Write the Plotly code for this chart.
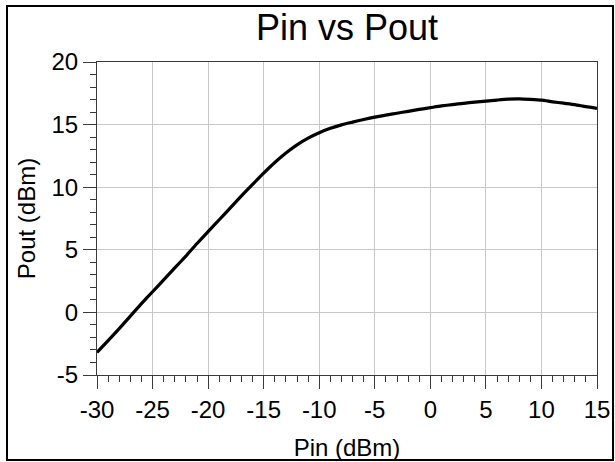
import plotly.graph_objects as go

pin_dbm = [-30, -29, -28, -27, -26, -25, -24, -23, -22, -21, -20, -19, -18, -17, -16,
           -15, -14, -13, -12, -11, -10, -9, -8, -7, -6, -5, -4, -3, -2, -1,
           0, 1, 2, 3, 4, 5, 6, 7, 8, 9, 10, 11, 12, 13, 14, 15]
pout_dbm = [-3.2, -2.25, -1.3, -0.3, 0.7, 1.65, 2.6, 3.55, 4.5, 5.5, 6.45, 7.4, 8.35, 9.3, 10.22,
            11.12, 11.97, 12.73, 13.38, 13.92, 14.35, 14.7, 14.98, 15.2, 15.41, 15.6, 15.76, 15.91, 16.06, 16.21,
            16.35, 16.49, 16.6, 16.7, 16.8, 16.88, 16.96, 17.03, 17.05, 17.01, 16.95, 16.82, 16.71, 16.6, 16.43, 16.3]

x_ticks = [-30, -25, -20, -15, -10, -5, 0, 5, 10, 15]
y_ticks = [-5, 0, 5, 10, 15, 20]

FONT = "Arial, Liberation Sans, Helvetica, sans-serif"

fig = go.Figure()
fig.add_trace(go.Scatter(
    x=pin_dbm, y=pout_dbm, mode="lines",
    line=dict(color="black", width=3.2, shape="spline", smoothing=0.6),
    showlegend=False, hoverinfo="x+y",
))

axis_common = dict(
    showline=True, linecolor="#3a3a3a", linewidth=1, mirror=True,
    showgrid=True, gridcolor="#c8c8c8", gridwidth=1,
    zeroline=False,
    ticks="outside", ticklen=13, tickwidth=1, tickcolor="#3a3a3a",
    tickfont=dict(family=FONT, size=24, color="black"),
    minor=dict(ticks="outside", ticklen=6, tickwidth=1, tickcolor="#3a3a3a",
               dtick=1, showgrid=False),
)

fig.update_xaxes(
    range=[-30, 15], tickvals=x_ticks, ticktext=[str(v) for v in x_ticks],
    title=dict(text="Pin (dBm)", font=dict(family=FONT, size=24, color="black"), standoff=17),
    **axis_common,
)
fig.update_yaxes(
    range=[-5, 20], tickvals=y_ticks, ticktext=[str(v) for v in y_ticks],
    title=dict(text="Pout (dBm)", font=dict(family=FONT, size=24, color="black"), standoff=9),
    **axis_common,
)

fig.update_layout(
    width=615, height=462,
    margin=dict(l=97, r=18, t=62, b=87, autoexpand=False),
    paper_bgcolor="white", plot_bgcolor="white",
    title=dict(text="Pin vs Pout", x=0.5, xref="paper", y=0.94, yref="container",
               xanchor="center", yanchor="middle",
               font=dict(family=FONT, size=36, color="black")),
    shapes=[dict(type="rect", xref="paper", yref="paper",
                 x0=-0.18, x1=1.032, y0=-0.2716, y1=1.179,
                 line=dict(color="black", width=2), fillcolor="rgba(0,0,0,0)", layer="above")],
)

fig.write_html(
    "out.html",
    config={"displayModeBar": False},
    post_script="document.body.style.margin='0';document.body.style.padding='0';document.body.style.overflow='hidden';",
)
